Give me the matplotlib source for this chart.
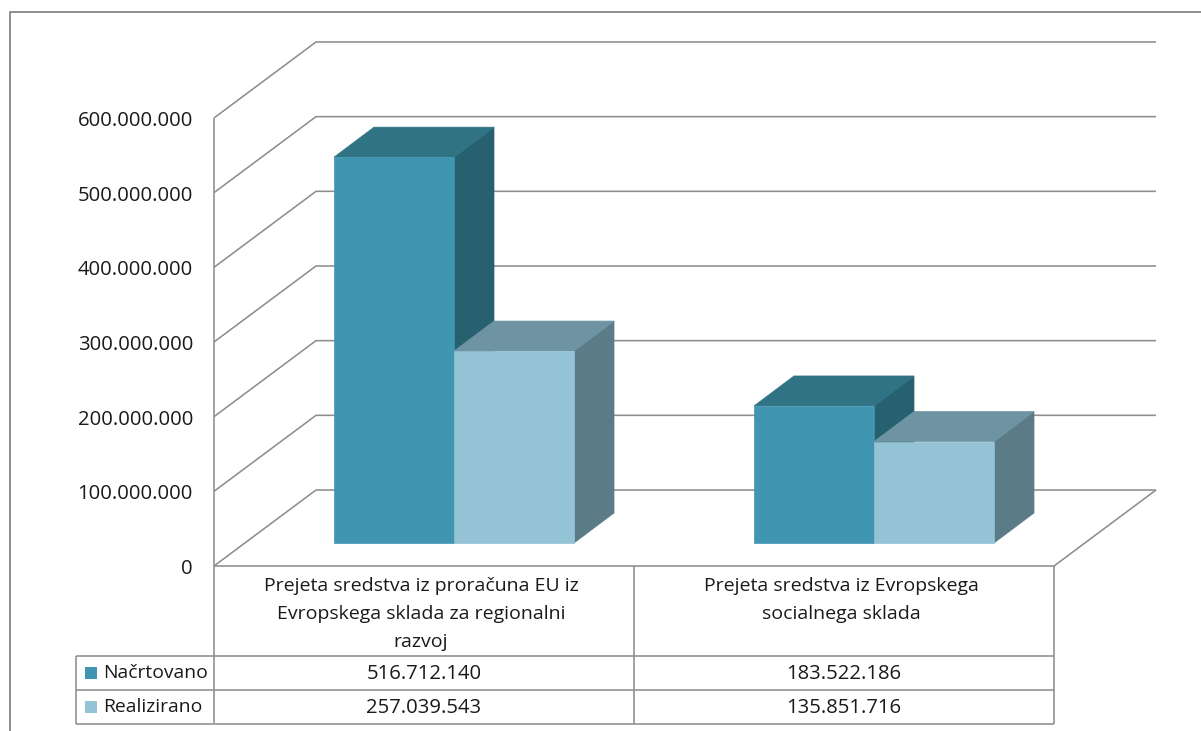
import matplotlib.pyplot as plt
from matplotlib.patches import Polygon, Rectangle

plt.rcParams['font.family'] = ['Open Sans', 'DejaVu Sans']

# Data
categories = ['Prejeta sredstva iz proračuna EU iz\nEvropskega sklada za regionalni\nrazvoj',
              'Prejeta sredstva iz Evropskega\nsocialnega sklada']
series_names = ['Načrtovano', 'Realizirano']
planned = [516712140, 183522186]
realized = [257039543, 135851716]
planned_labels = ['516.712.140', '183.522.186']
realized_labels = ['257.039.543', '135.851.716']
y_ticks = [0, 100000000, 200000000, 300000000, 400000000, 500000000, 600000000]
y_tick_labels = ['0', '100.000.000', '200.000.000', '300.000.000', '400.000.000', '500.000.000', '600.000.000']

# Colours: front, top, side
planned_colors = ('#4096B1', '#307385', '#27606F')
realized_colors = ('#93C3D5', '#6E94A3', '#5B7B87')
line_color = '#8E8E8E'
text_color = '#1A1A1A'
font_size = 13.9
number_size = 14.6

# Layout in pixels of the picture
W, H = 1201, 731
zero_y = 566
px_per_unit = 74.67 / 100000000
left = 214
cat_w = 420
depth_x, depth_y = 102, 76
bar_w = 120
bar_dx, bar_dy = 40, 30
bar_shift_x, bar_shift_y = 30, 23


def vy(value):
    # value to pixel height on the front plane
    return zero_y - value * px_per_unit


fig = plt.figure(figsize=(W / 100, H / 100), dpi=100)
ax = fig.add_axes([0, 0, 1, 1])
ax.set_xlim(0, W)
ax.set_ylim(H, 0)
ax.axis('off')


def line(xs, ys, lw=1.15, z=1):
    ax.plot(xs, ys, color=line_color, lw=lw, zorder=z, solid_capstyle='butt')


# Outer frame
line([10, 10, W], [H, 12, 12], lw=1.4)

# Walls and gridlines
right = left + cat_w * len(categories)
for t in y_ticks:
    y = vy(t)
    if t == 0:
        line([left, left + depth_x], [y, y - depth_y])
        line([left + depth_x, right + depth_x], [y - depth_y, y - depth_y])
        line([right, right + depth_x], [y, y - depth_y])
    else:
        line([left, left + depth_x, right + depth_x], [y, y - depth_y, y - depth_y])
    ax.text(193, y + 3, y_tick_labels[t // 100000000], ha='right', va='center',
            fontsize=number_size, color=text_color)
line([left, left], [vy(600000000), 723])

# Bars
for i in range(len(categories)):
    x0 = left + cat_w * i + cat_w / 2 + bar_shift_x - bar_w
    for j, (vals, cols) in enumerate([(planned, planned_colors), (realized, realized_colors)]):
        xa = x0 + j * bar_w
        xb = xa + bar_w
        base = zero_y - bar_shift_y
        top = base - vals[i] * px_per_unit
        z = 3 + j
        ax.add_patch(Polygon([(xb, top), (xb + bar_dx, top - bar_dy), (xb + bar_dx, base - bar_dy), (xb, base)],
                             fc=cols[2], ec=cols[2], lw=0.5, zorder=z))
        ax.add_patch(Polygon([(xa, top), (xa + bar_dx, top - bar_dy), (xb + bar_dx, top - bar_dy), (xb, top)],
                             fc=cols[1], ec=cols[1], lw=0.5, zorder=z))
        ax.add_patch(Rectangle((xa, top), bar_w, base - top, fc=cols[0], ec=cols[0], lw=0.5, zorder=z))

# Data table under the chart
row1, row2, row3 = 655.7, 689.7, 723.5
line([left, right, right], [zero_y, zero_y, row3], z=5)
line([left + cat_w, left + cat_w], [zero_y, row3], z=5)
line([76, right], [row1, row1], z=5)
line([76, right], [row2, row2], z=5)
line([76, right], [row3, row3], z=5)
line([76, 76], [row1, row3], z=5)

for i, cat in enumerate(categories):
    cx = left + cat_w * i + cat_w / 2
    ax.text(cx - 3, 577, cat, ha='center', va='top', fontsize=font_size + 0.1, color=text_color, linespacing=1.7)
    ax.text(cx, (row1 + row2) / 2 + 1, planned_labels[i], ha='center', va='center', fontsize=number_size, color=text_color)
    ax.text(cx, (row2 + row3) / 2 + 1, realized_labels[i], ha='center', va='center', fontsize=number_size, color=text_color)

# Legend keys in the table
for name, cols, ya, yb in [(series_names[0], planned_colors, row1, row2), (series_names[1], realized_colors, row2, row3)]:
    ym = (ya + yb) / 2
    ax.add_patch(Rectangle((85, ym - 6), 12, 12, fc=cols[0], ec='none', zorder=6))
    ax.text(103, ym, name, ha='left', va='center', fontsize=font_size, color=text_color)

fig.savefig('out.png', dpi=100)
